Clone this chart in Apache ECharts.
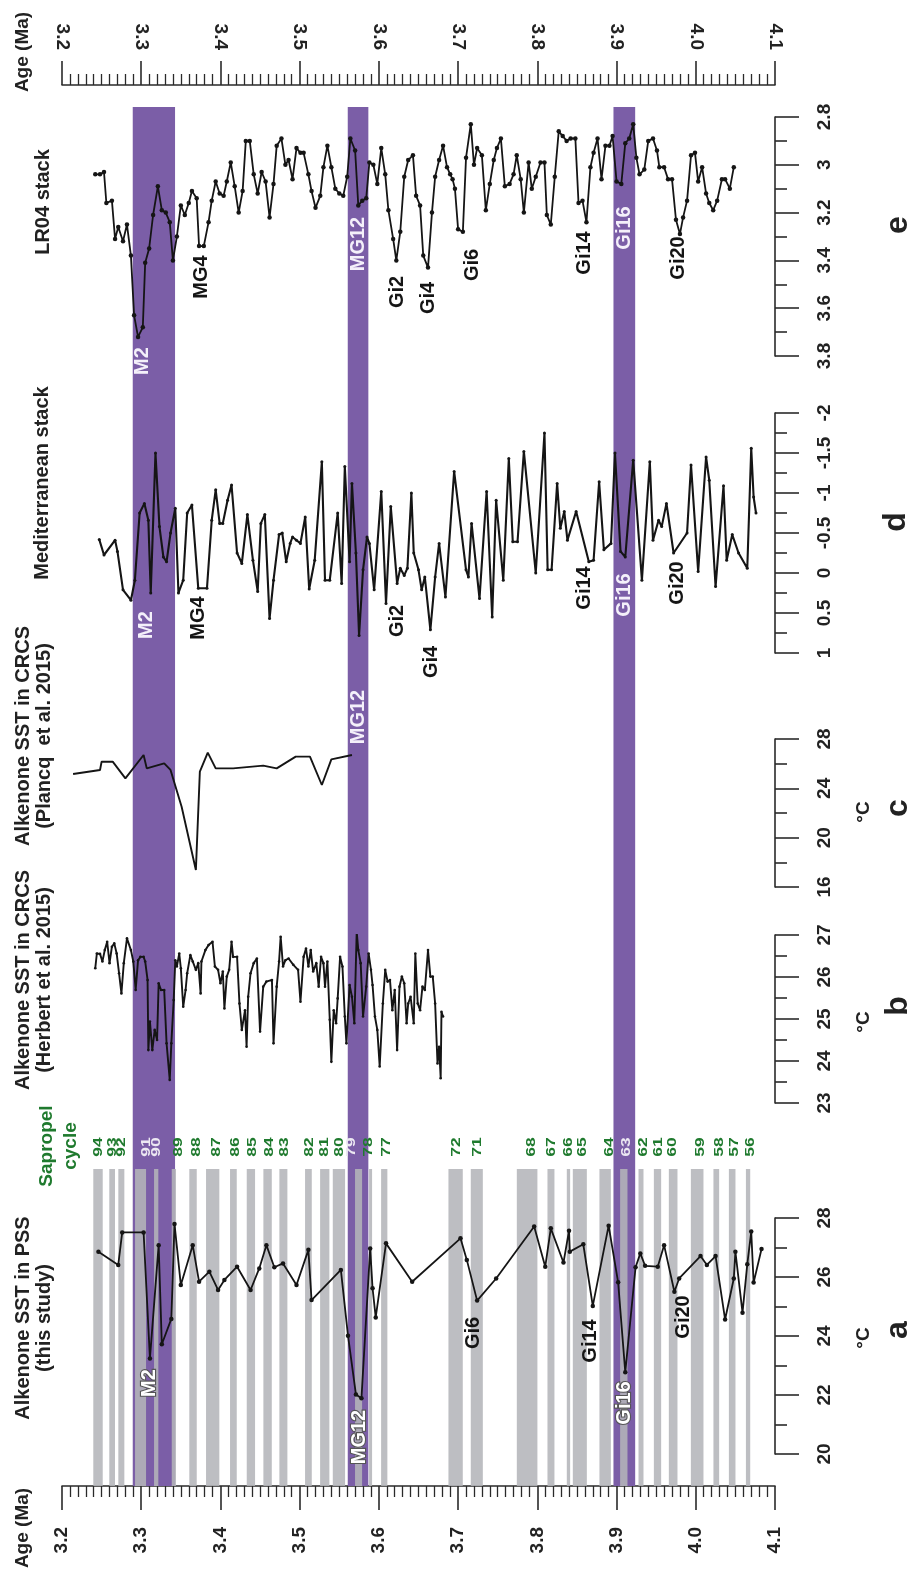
<!DOCTYPE html>
<html><head><meta charset="utf-8">
<script src="https://cdn.jsdelivr.net/npm/echarts@6/dist/echarts.min.js"></script>
<style>html,body{margin:0;padding:0;background:#fff}#c{width:909px;height:1569px}</style>
</head><body><div id="c"></div>
<script>
// ---------------- DATA ----------------
const ageTickLabels = ['3.2','3.3','3.4','3.5','3.6','3.7','3.8','3.9','4.0','4.1'];
const lr04TickLabels = ['2.8','3','3.2','3.4','3.6','3.8'];
const medTickLabels = ['-2','-1.5','-1','-0.5','0','0.5','1'];
const plancqTickLabels = ['16','20','24','28'];
const herbertTickLabels = ['23','24','25','26','27'];
const pssTickLabels = ['20','22','24','26','28'];

// e: LR04 benthic d18O stack
const lr04Age = [3.242,3.248,3.253,3.256,3.263,3.267,3.271,3.277,3.282,3.287,3.291,3.296,3.302,3.305,3.310,3.315,3.321,3.326,3.331,3.336,3.340,3.345,3.350,3.355,3.360,3.364,3.370,3.373,3.379,3.385,3.389,3.394,3.399,3.404,3.408,3.413,3.418,3.423,3.428,3.432,3.437,3.442,3.447,3.452,3.457,3.462,3.467,3.471,3.477,3.482,3.486,3.491,3.496,3.501,3.505,3.511,3.515,3.520,3.526,3.530,3.535,3.540,3.545,3.550,3.555,3.560,3.564,3.570,3.574,3.579,3.584,3.588,3.593,3.598,3.603,3.608,3.612,3.618,3.622,3.627,3.632,3.637,3.643,3.647,3.652,3.656,3.662,3.667,3.671,3.676,3.681,3.686,
3.690,3.693,3.696,3.700,3.706,3.710,3.716,3.720,3.724,3.730,3.735,3.740,3.745,3.749,3.754,3.759,3.765,3.770,3.774,3.779,3.783,3.789,3.793,3.798,3.804,3.809,3.812,3.817,3.822,3.827,3.832,3.837,3.842,3.848,3.852,3.857,3.862,3.867,3.871,3.876,3.881,3.886,3.891,3.895,3.900,3.906,3.911,3.916,3.921,3.925,3.929,3.935,3.940,3.946,3.951,3.954,3.960,3.965,3.970,3.975,3.980,3.984,3.989,3.994,3.999,4.003,4.008,4.013,4.017,4.022,4.027,4.033,4.037,4.043,4.048];
const lr04Val = [3.04,3.04,3.03,3.16,3.15,3.31,3.26,3.32,3.25,3.38,3.63,3.72,3.68,3.41,3.35,3.21,3.09,3.19,3.20,3.24,3.40,3.30,3.17,3.21,3.16,3.11,3.14,3.34,3.34,3.24,3.15,3.07,3.12,3.13,3.07,2.99,3.09,3.20,3.11,2.90,2.90,3.04,3.12,3.03,3.07,3.22,3.08,2.92,2.89,3.00,2.98,3.06,2.93,2.95,2.95,3.04,3.11,3.18,3.13,3.01,2.92,3.01,3.10,3.12,3.13,3.05,2.89,2.94,3.17,3.15,3.14,2.99,3.00,3.08,2.93,3.04,3.19,3.31,3.40,3.28,3.05,2.98,2.96,3.13,3.17,3.38,3.43,3.20,3.05,2.98,2.92,3.01,
3.04,3.06,3.10,3.27,3.28,2.97,2.83,3.00,2.93,2.96,3.19,3.08,2.98,2.93,2.89,3.09,3.08,3.04,2.96,3.06,3.20,2.99,3.10,3.05,2.99,2.99,3.21,3.25,3.05,2.86,2.88,2.90,2.89,2.89,3.16,3.15,3.24,3.01,2.95,2.89,3.06,2.92,2.92,2.88,3.07,3.08,2.91,2.89,2.83,2.97,3.04,3.02,2.90,2.89,2.94,3.01,3.01,3.06,3.06,3.23,3.29,3.22,3.15,2.96,2.95,3.07,3.01,3.12,3.16,3.19,3.15,3.06,3.06,3.10,3.01];

// d: Mediterranean stack
const medAge = [3.247,3.253,3.267,3.270,3.277,3.287,3.292,3.298,3.304,3.309,3.312,3.318,3.323,3.328,3.332,3.337,3.343,3.347,3.353,3.358,3.364,3.372,3.383,3.389,3.394,3.399,3.403,3.409,3.414,3.421,3.427,3.434,3.441,3.447,3.451,3.456,3.462,3.467,3.474,3.478,3.483,3.488,3.491,3.496,3.501,3.507,3.512,3.519,3.528,3.532,3.538,3.548,3.553,3.557,3.563,3.566,3.571,3.575,3.580,3.585,3.588,3.594,3.603,3.609,3.615,3.623,3.627,3.632,3.636,3.641,3.644,3.650,3.654,3.658,3.665,3.671,3.676,
3.684,3.695,3.710,3.713,3.717,3.727,3.736,3.743,3.748,3.757,3.764,3.769,3.775,3.783,3.798,3.809,3.813,3.818,3.825,3.829,3.834,3.838,3.849,3.865,3.871,3.878,3.884,3.893,3.898,3.905,3.911,3.921,3.932,3.942,3.946,3.953,3.957,3.963,3.972,3.989,3.994,4.003,4.013,4.017,4.025,4.035,4.039,4.046,4.054,4.065,4.070,4.073,4.076];
const medVal = [-0.42,-0.225,-0.41,-0.27,0.21,0.34,0.09,-0.75,-0.87,-0.66,0.25,-1.50,-0.58,-0.20,-0.14,-0.50,-0.81,0.25,0.09,-0.75,-0.85,0.19,0.19,-0.66,-1.04,-0.62,-0.62,-0.91,-1.10,-0.25,-0.12,-0.73,-0.16,0.23,-0.62,-0.73,0.57,0.09,-0.48,-0.50,-0.14,-0.37,-0.45,-0.41,-0.37,-0.70,0.20,-0.16,-1.39,0.09,0.09,-0.75,0.13,-1.33,-0.14,-1.12,-0.25,0.78,-0.04,-0.45,-0.37,0.21,-1.02,0.38,-0.83,0.13,-0.06,0.03,-0.06,-1.00,-0.25,-0.04,0.21,0.05,0.71,0.05,-0.37,
0.30,-1.27,-0.04,0.05,-0.62,0.32,-1.02,0.55,-0.91,0.09,-1.43,-0.39,-0.39,-1.52,0.00,-1.75,-0.04,-0.04,-1.12,-0.56,-0.77,-0.41,-0.77,-0.14,-0.16,-1.14,-0.29,-0.37,-1.50,-0.27,-0.20,-1.41,0.09,-1.39,-0.41,-0.66,-0.58,-0.87,-0.25,-0.50,-1.35,-0.02,-1.45,-1.16,0.17,-1.09,-0.16,-0.48,-0.25,-0.06,-1.56,-0.95,-0.75];

// c: Alkenone SST CRCS (Plancq et al. 2015)
const plancqAge = [3.214,3.248,3.250,3.264,3.280,3.303,3.307,3.329,3.337,3.351,3.369,3.374,3.384,3.394,3.416,3.454,3.471,3.495,3.513,3.528,3.540,3.566];
const plancqVal = [25.16,25.49,26.16,26.16,24.81,26.70,25.62,26.03,25.49,22.51,17.38,25.35,26.89,25.62,25.62,25.84,25.62,26.57,26.57,24.27,26.35,26.70];

// b: Alkenone SST CRCS (Herbert et al. 2015)
const herbertAge = [3.242,3.244,3.248,3.251,3.254,3.257,3.260,3.263,3.266,3.269,3.272,3.275,3.278,3.282,3.287,3.290,3.293,3.296,3.299,3.303,3.305,3.308,3.309,3.311,3.314,3.317,3.320,3.322,3.325,3.329,3.332,3.336,3.338,3.341,3.343,3.345,3.348,3.350,3.353,3.356,3.358,3.362,3.365,3.369,3.372,3.375,3.376,3.381,3.385,3.390,3.393,3.397,3.400,3.403,3.405,3.408,3.411,3.414,3.416,3.421,3.424,3.427,3.431,3.433,3.435,3.438,3.442,3.446,3.450,3.454,3.458,3.465,3.467,3.471,3.474,3.476,3.479,3.482,3.486,3.492,3.498,3.501,3.505,3.508,3.511,3.514,3.517,3.521,3.524,3.527,3.530,3.532,3.535,3.538,3.540,3.543,3.546,3.548,3.551,3.554,3.557,3.559,3.563,3.566,3.569,3.572,3.574,3.577,3.580,3.584,3.587,3.590,3.592,3.595,3.598,3.601,3.605,3.608,3.611,3.614,3.617,3.620,3.623,3.626,3.629,3.632,3.635,3.637,3.640,3.644,3.646,3.649,3.652,3.655,3.658,3.662,3.665,3.668,3.671,3.674,3.676,3.678,3.679,3.681];
const herbertVal = [26.21,26.56,26.55,26.37,26.64,26.84,26.33,26.72,26.80,26.56,26.09,25.61,26.33,26.92,26.64,26.37,25.69,26.40,26.48,26.48,26.37,25.93,24.26,24.94,24.26,24.74,24.50,25.85,25.69,25.69,24.42,23.55,24.42,25.45,26.40,26.25,26.56,26.21,25.29,25.69,26.09,26.52,26.37,26.17,26.33,25.61,26.37,26.64,26.76,26.84,26.25,26.17,25.85,26.13,25.25,26.01,26.17,26.84,26.48,26.48,25.37,24.74,25.21,24.34,25.53,26.09,26.33,26.44,24.70,25.77,25.89,25.93,24.42,25.77,26.37,26.96,26.25,26.40,26.44,26.29,26.17,25.41,26.48,26.68,26.25,26.64,26.13,26.33,25.77,26.48,26.33,25.77,26.37,24.98,23.98,25.21,24.90,25.49,26.48,26.25,25.06,24.42,25.81,25.53,24.90,27.08,26.64,26.33,25.06,25.77,26.56,26.17,25.81,25.06,24.74,23.87,25.37,26.17,25.89,25.93,25.21,25.69,24.26,25.77,26.01,25.85,24.90,25.37,25.53,24.90,26.56,25.37,25.21,25.77,25.69,26.64,26.01,26.01,25.37,23.94,24.34,23.59,25.17,25.06];

// a: Alkenone SST PSS (this study)
const pssAge = [3.246,3.271,3.276,3.303,3.311,3.322,3.326,3.338,3.342,3.350,3.365,3.373,3.386,3.397,3.405,3.421,3.438,3.449,3.458,3.468,3.479,3.496,3.511,3.515,3.552,3.561,3.571,3.578,3.589,3.592,3.596,3.609,3.642,
3.703,3.711,3.724,3.748,3.796,3.810,3.817,3.833,3.840,3.841,3.858,3.870,3.890,3.902,3.911,3.924,3.930,3.936,3.952,3.960,3.973,3.979,4.006,4.014,4.025,4.037,4.048,4.050,4.059,4.065,4.070,4.073,4.083];
const pssVal = [26.86,26.41,27.51,27.51,23.24,27.08,23.72,24.58,27.80,25.73,27.08,25.84,26.18,25.56,25.90,26.35,25.56,26.29,27.08,26.33,26.46,25.73,26.92,25.22,26.24,24.01,22.02,21.89,26.97,25.62,24.63,27.14,25.84,
27.31,26.58,25.20,25.95,27.71,26.35,27.65,26.49,27.57,26.86,27.11,25.02,27.74,25.82,22.77,26.33,26.80,26.38,26.35,27.08,25.50,25.95,26.71,26.41,26.71,24.56,25.95,26.86,24.79,26.43,27.54,25.81,26.95];

// glacial events (purple bands), age ranges
const eventBandStart = [3.2893,3.5607,3.8961];
const eventBandEnd   = [3.3427,3.5867,3.9235];

// sapropel cycles (gray bars)
const sapropelCycle = ['94','93','92','91','90','89','88','87','86','85','84','83','82','81','80','79','78','77','72','71','68','67','66','65','64','63','62','61','60','59','58','57','56'];
const sapropelStart = [3.2395,3.2597,3.2711,3.2922,3.3162,3.3385,3.3607,3.3818,3.4121,3.4332,3.4542,3.4744,3.5068,3.5258,3.5418,3.5699,3.5876,3.6028,3.6878,3.7160,3.7741,3.8128,3.8372,3.8448,3.8784,3.9045,3.9277,3.9471,3.9660,3.9938,4.0223,4.0418,4.0633];
const sapropelEnd   = [3.2514,3.2669,3.2787,3.3061,3.3216,3.3439,3.3701,3.3986,3.4206,3.4437,3.4648,3.4845,3.5153,3.5375,3.5573,3.5788,3.5914,3.6107,3.7059,3.7312,3.8001,3.8216,3.8414,3.8625,3.8928,3.9138,3.9340,3.9563,3.9769,4.0097,4.0295,4.0501,4.0687];
const sapropelLabelAge = [3.2458,3.2644,3.2754,3.3069,3.3196,3.3468,3.3701,3.3953,3.4197,3.4412,3.4626,3.4816,3.5131,3.5321,3.5510,3.5658,3.5867,3.6100,3.6984,3.7244,3.7931,3.8183,3.8393,3.8574,3.8911,3.9130,3.9348,3.9529,3.9711,4.0064,4.0299,4.0485,4.0687];

// ---------------- STYLE / LAYOUT ----------------
const FF = "'Liberation Sans', Arial, Helvetica, sans-serif";
const PURPLE = '#7b5ea7', GRAY = '#b4b5b9', GREEN = '#1f7a2e', AX = '#2a2a2a', INK = '#151515';
const LEFT = 62, RIGHT = 134;

const chart = echarts.init(document.getElementById('c'), null, {width:909, height:1569});

function grid(top, height, bottom){
  const g = {left:LEFT, right:RIGHT, top:top, containLabel:false};
  if (height != null) g.height = height; else g.bottom = bottom;
  return g;
}
const grids = [
  grid(85, null, 83),     // 0 age axes
  grid(107, null, 83),    // 1 purple bands
  grid(1169, null, 83),   // 2 sapropel bars
  grid(117, 239),         // 3 e
  grid(413, 240),         // 4 d
  grid(739, 148),         // 5 c
  grid(935, 168),         // 6 b
  grid(1218, 236)         // 7 a
];

const axLine = {show:true, onZero:false, lineStyle:{color:AX, width:1.6}};
function ageAxis(gi, pos, show){
  return {gridIndex:gi, type:'value', position:pos, min:3.2, max:4.1, interval:0.1, show:show,
    axisLine:axLine,
    axisTick:{show:true, length:24, lineStyle:{color:AX, width:1.6}},
    minorTick:{show:true, splitNumber:10, length:11, lineStyle:{color:AX, width:1.3}},
    splitLine:{show:false}, minorSplitLine:{show:false},
    axisLabel:{rotate:90, margin: pos==='top'?35:41, fontSize:19, fontWeight:'bold', color:'#222', fontFamily:FF,
      formatter: v => ageTickLabels[Math.round((v-3.2)*10)]}};
}
function vAxis(gi, min, max, interval, inverse, labels){
  return {gridIndex:gi, type:'value', position:'right', min, max, interval, inverse,
    axisLine:axLine,
    axisTick:{show:true, length:24, lineStyle:{color:AX, width:1.6}},
    minorTick:{show:true, splitNumber:2, length:12, lineStyle:{color:AX, width:1.6}},
    splitLine:{show:false}, minorSplitLine:{show:false},
    axisLabel:{rotate:90, margin:40, fontSize:19, fontWeight:'bold', color:'#222', fontFamily:FF,
      formatter: v => labels[Math.round((v-min)/interval)]}};
}
function hidden(gi){ return {gridIndex:gi, type:'value', show:false, min:0, max:1}; }
function hiddenAge(gi){ return {gridIndex:gi, type:'value', show:false, min:3.2, max:4.1}; }

const xAxis = [ageAxis(0,'top',true), ageAxis(0,'bottom',true)];
for (let g=1; g<=7; g++) xAxis.push(hiddenAge(g));
const yAxis = [hidden(0), hidden(1), hidden(2),
  vAxis(3, 2.8, 3.8, 0.2, true, lr04TickLabels),
  vAxis(4, -2, 1, 0.5, true, medTickLabels),
  vAxis(5, 16, 28, 4, false, plancqTickLabels),
  vAxis(6, 23, 27, 1, false, herbertTickLabels),
  vAxis(7, 20, 28, 2, false, pssTickLabels)];

function bandSeries(xi, yi, starts, ends, color, opacity, z){
  return {type:'custom', xAxisIndex:xi, yAxisIndex:yi, z:z, silent:true,
    data: starts.map((s,i)=>[s, ends[i]]),
    encode:{x:[0,1]},
    renderItem:(params, api)=>{
      const x0 = api.coord([api.value(0), 0])[0];
      const x1 = api.coord([api.value(1), 0])[0];
      const cs = params.coordSys;
      return {type:'rect', shape:{x:x0, y:cs.y, width:x1-x0, height:cs.height},
        style:{fill:color, opacity:opacity}};
    }};
}
function lineSeries(xi, yi, ages, vals, sym, width){
  return {type:'line', xAxisIndex:xi, yAxisIndex:yi, z:10, silent:true, animation:false,
    data: ages.map((a,i)=>[a, vals[i]]),
    showSymbol: sym>0, symbol:'circle', symbolSize:sym,
    itemStyle:{color:INK}, lineStyle:{color:INK, width:width}};
}

const series = [
  bandSeries(2, 1, eventBandStart, eventBandEnd, PURPLE, 1, 1),
  bandSeries(3, 2, sapropelStart, sapropelEnd, GRAY, 0.88, 2),
  lineSeries(4, 3, lr04Age, lr04Val, 4.5, 1.8),
  lineSeries(5, 4, medAge, medVal, 3, 2.1),
  lineSeries(6, 5, plancqAge, plancqVal, 0, 1.9),
  lineSeries(7, 6, herbertAge, herbertVal, 2.6, 1.9),
  lineSeries(8, 7, pssAge, pssVal, 4.5, 1.8)
];

chart.setOption({animation:false, backgroundColor:'#fff', grid:grids, xAxis, yAxis, series});

// ---------------- ANNOTATIONS ----------------
function vtext(text, x, y, size, fill, extra){
  extra = extra || {};
  const st = {text, fill, fontSize:size, fontWeight:'bold', fontFamily:FF, align:'center', verticalAlign:'middle'};
  if (extra.lh) st.lineHeight = extra.lh;
  if (extra.stroke){ st.stroke = extra.stroke; st.lineWidth = extra.lw || 2; }
  return {type:'text', x, y, rotation:Math.PI/2, scaleX: extra.sx || 1, z:100, silent:true, style:st};
}
const ageX = a => chart.convertToPixel({xAxisIndex:1}, a);

const g = [];
// axis titles & panel titles
g.push(vtext('Age (Ma)', 23, 52, 19, '#222'));
g.push(vtext('Age (Ma)', 23, 1528, 19, '#222'));
g.push(vtext('LR04 stack', 43, 202, 20, '#222'));
g.push(vtext('Mediterranean stack', 42, 483, 20, '#222'));
g.push(vtext('Alkenone SST in CRCS\n(Plancq  et al. 2015)', 34, 736, 20, '#222', {lh:21}));
g.push(vtext('Alkenone SST in CRCS\n(Herbert et al. 2015)', 34, 980, 20, '#222', {lh:21}));
g.push(vtext('Alkenone SST in PSS\n(this study)', 34, 1318, 20, '#222', {lh:21}));
g.push(vtext('Sapropel\ncycle', 59, 1146, 19, GREEN, {lh:24}));
// units and panel letters
g.push(vtext('°C', 864, 812, 19, '#222'));
g.push(vtext('°C', 864, 1022, 19, '#222'));
g.push(vtext('°C', 864, 1338, 19, '#222'));
g.push(vtext('e', 898, 225, 32, '#222'));
g.push(vtext('d', 896, 522, 32, '#222'));
g.push(vtext('c', 898, 808, 32, '#222'));
g.push(vtext('b', 898, 1006, 32, '#222'));
g.push(vtext('a', 898, 1330, 32, '#222'));

// sapropel cycle numbers
const inBand = a => eventBandStart.some((s,i)=> a > s && a < eventBandEnd[i]);
sapropelCycle.forEach((c,i)=>{
  const a = sapropelLabelAge[i];
  g.push(vtext(c, ageX(a), 1147, 12, inBand(a) && c!=='89' ? '#ece8f2' : GREEN, {sx:1.45}));
});

// event labels: [text, age, y, style]
const eventLabels = [
  ['M2',3.302,361,'w'],['MG4',3.3755,277,'k'],['MG12',3.5737,244,'w'],['Gi2',3.623,292,'k'],['Gi4',3.662,298,'k'],
  ['Gi6',3.718,265,'k'],['Gi14',3.859,253,'k'],['Gi16',3.9096,228,'w'],['Gi20',3.978,258,'k'],
  ['M2',3.307,625,'w'],['MG4',3.372,618,'k'],['MG12',3.574,717,'w'],['Gi2',3.624,621,'k'],['Gi4',3.667,662,'k'],
  ['Gi14',3.860,588,'k'],['Gi16',3.910,595,'w'],['Gi20',3.977,583,'k'],
  ['M2',3.310,1383,'o'],['MG12',3.575,1437,'o'],['Gi6',3.720,1333,'k'],['Gi14',3.867,1341,'k'],['Gi16',3.910,1403,'o'],['Gi20',3.984,1317,'k']
];
eventLabels.forEach(([t,a,y,s])=>{
  if (s==='k') g.push(vtext(t, ageX(a), y, 20, '#151515'));
  else if (s==='w') g.push(vtext(t, ageX(a), y, 20, '#f4f0fa'));
  else g.push(vtext(t, ageX(a), y, 20, '#ffffff', {stroke:'#555', lw:2.2}));
});

chart.setOption({graphic: g});
</script></body></html>
